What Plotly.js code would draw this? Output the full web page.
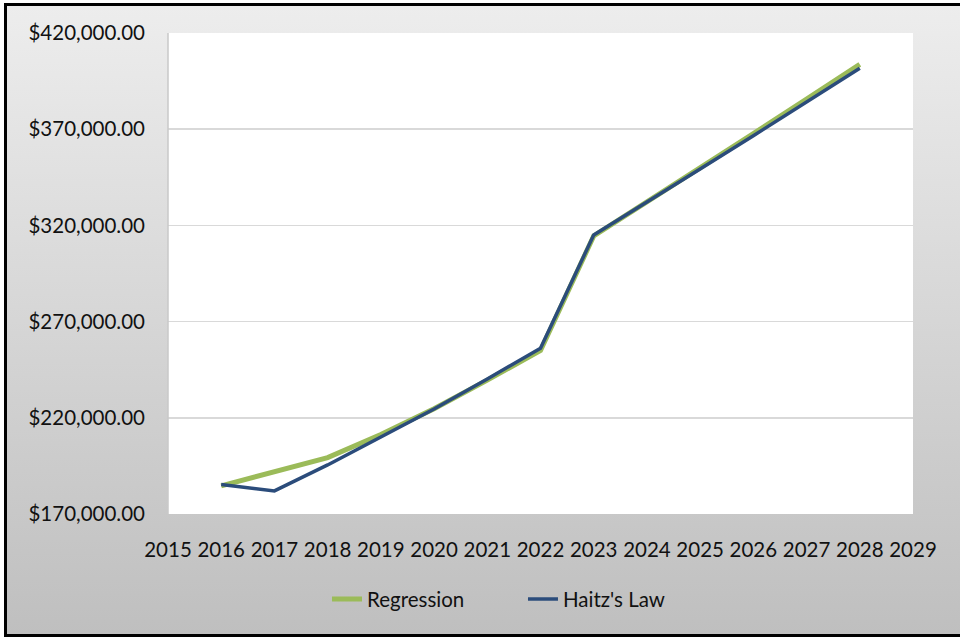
<!DOCTYPE html>
<html>
<head>
<meta charset="utf-8">
<script src="https://cdn.plot.ly/plotly-3.0.1.min.js"></script>
<style>
  html, body { margin: 0; padding: 0; background: #ffffff; }
  #frame {
    position: absolute; left: 4px; top: 3px; width: 960px; height: 634px;
    border: 3px solid #000; box-sizing: border-box;
    background: linear-gradient(#ededed, #bfbfbf);
  }
  #chart { position: absolute; left: 0; top: 0; width: 960px; height: 638px; }
</style>
</head>
<body>
<div id="frame"></div>
<div id="chart"></div>
<script>
// Projected values per year
const years = [2016, 2017, 2018, 2019, 2020, 2021, 2022, 2023, 2024, 2025, 2026, 2027, 2028];
const regression = [184600, 191900, 199300, 211300, 224700, 239600, 255000, 314500, 332000, 349800, 367700, 385700, 403700];
const haitzLaw   = [185300, 182000, 195500, 209800, 224600, 240200, 256200, 315000, 332000, 349300, 366600, 384100, 401700];
const seriesNames = ['Regression', "Haitz's Law"];
const yTicks = [170000, 220000, 270000, 320000, 370000, 420000];

const traces = [
  {
    x: years, y: regression, name: seriesNames[0], type: 'scatter', mode: 'lines',
    line: { color: '#9bbb59', width: 5 }
  },
  {
    x: years, y: haitzLaw, name: seriesNames[1], type: 'scatter', mode: 'lines',
    line: { color: '#2b4c7b', width: 3.5 }
  }
];

const font = { family: 'Lato, "Open Sans", sans-serif', size: 20.5, color: '#111111' };

const layout = {
  width: 960, height: 638,
  paper_bgcolor: 'rgba(0,0,0,0)',
  plot_bgcolor: '#ffffff',
  margin: { l: 168, r: 47, t: 33, b: 124 },
  font: font,
  showlegend: true,
  hovermode: false,
  xaxis: {
    range: [2015, 2029], tick0: 2015, dtick: 1, tickformat: 'd',
    showgrid: false, zeroline: false, showline: false,
    ticks: '', ticklabelstandoff: 21, tickfont: font
  },
  yaxis: {
    range: [170000, 420000], tickvals: yTicks,
    tickformat: '$,.2f',
    showgrid: true, gridcolor: '#d9d9d9', gridwidth: 1.5,
    zeroline: false, showline: false, ticks: '',
    ticklabelstandoff: 22, tickfont: font
  },
  legend: {
    orientation: 'h', x: 0.2134, xanchor: 'left', y: -0.177, yanchor: 'middle',
    font: font, bgcolor: 'rgba(0,0,0,0)', entrywidth: 151, entrywidthmode: 'pixels'
  },
  shapes: [
    { type: 'line', xref: 'paper', yref: 'paper', x0: 0, x1: 0, y0: 0, y1: 1,
      line: { color: '#c8c8c8', width: 1.5 } }
  ]
};

Plotly.newPlot('chart', traces, layout, { displayModeBar: false, staticPlot: true });
</script>
</body>
</html>
